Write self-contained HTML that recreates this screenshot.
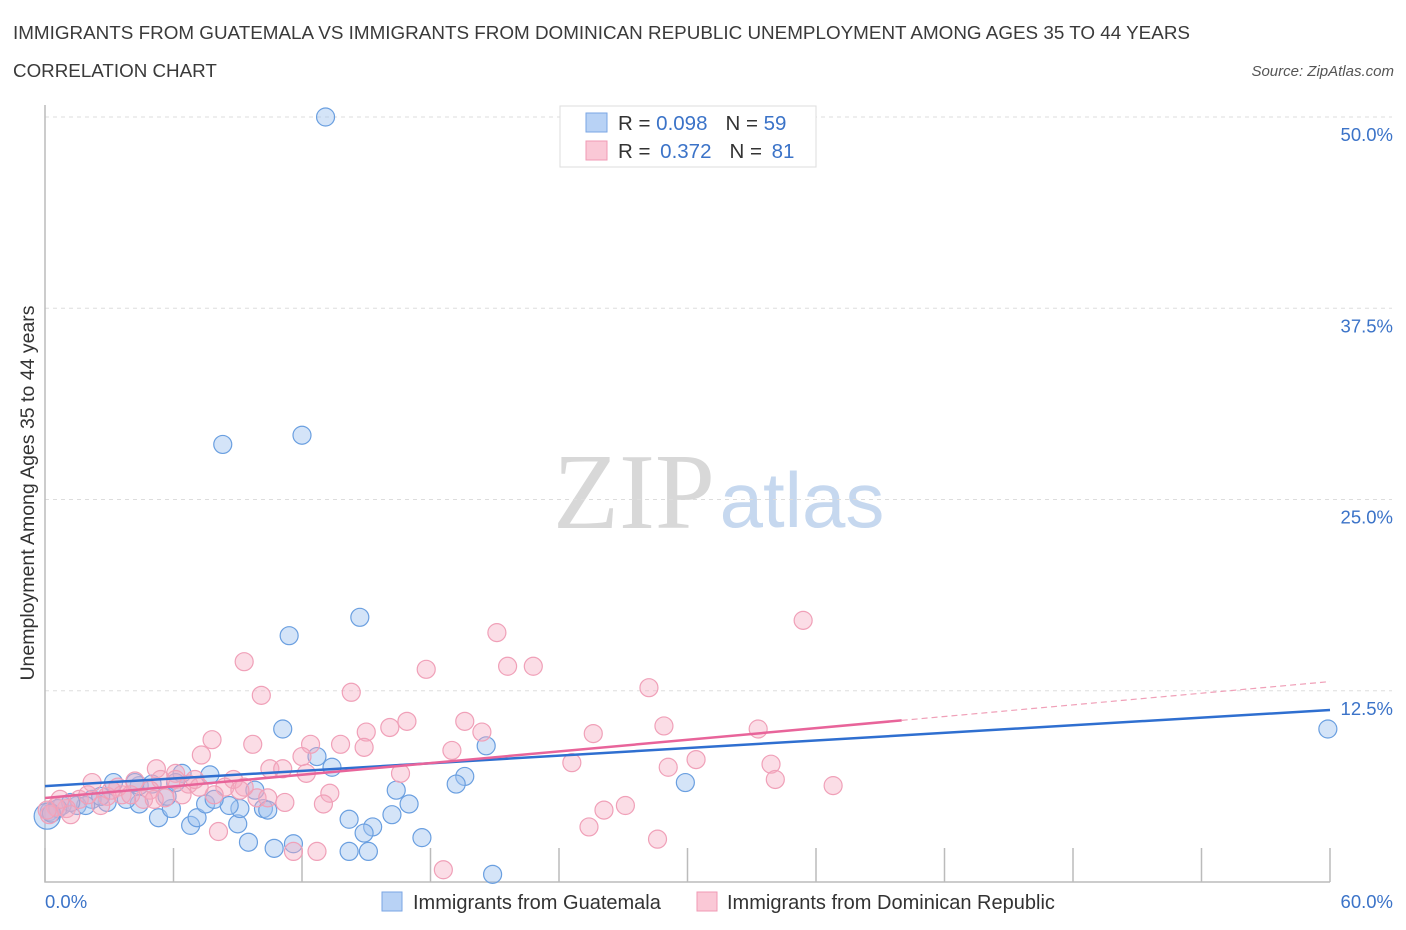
<!DOCTYPE html>
<html><head><meta charset="utf-8"><style>
body{margin:0;background:#fff;font-family:"Liberation Sans",sans-serif;}
svg{display:block}
</style></head><body>
<svg id="chart" width="1406" height="930" xmlns="http://www.w3.org/2000/svg">
<text x="13" y="39" font-size="18.8" fill="#3a3a3a" textLength="1177" lengthAdjust="spacingAndGlyphs">IMMIGRANTS FROM GUATEMALA VS IMMIGRANTS FROM DOMINICAN REPUBLIC UNEMPLOYMENT AMONG AGES 35 TO 44 YEARS</text>
<text x="13" y="77" font-size="18.8" fill="#3a3a3a">CORRELATION CHART</text>
<text x="1394" y="76" font-size="15" fill="#555" text-anchor="end" font-style="italic">Source: ZipAtlas.com</text>
<text transform="translate(34,493) rotate(-90)" font-size="19.5" fill="#333" text-anchor="middle">Unemployment Among Ages 35 to 44 years</text>
<g>
<text x="634" y="528" font-size="108" font-family="Liberation Serif,serif" fill="#d8d8d8" text-anchor="middle">ZIP</text>
<text x="802" y="527" font-size="78" fill="#c6d8ef" text-anchor="middle">atlas</text>
</g>
<g id="grid"></g><g id="axes"></g><g id="pts"></g><g id="lines"></g>
<g>
<rect x="560" y="106" width="256" height="61" fill="#fff" stroke="#ddd"/>
<rect x="586" y="113" width="21" height="19" fill="#b8d2f5" stroke="#7aa6e4"/>
<rect x="586" y="141" width="21" height="19" fill="#fac8d6" stroke="#f09ab4"/>
<text x="618" y="130" font-size="20.5" fill="#333">R = <tspan fill="#3b73c8">0.098</tspan><tspan dx="18">N = </tspan><tspan fill="#3b73c8">59</tspan></text>
<text x="618" y="158" font-size="20.5" fill="#333">R = <tspan dx="4" fill="#3b73c8">0.372</tspan><tspan dx="18">N = </tspan><tspan dx="4" fill="#3b73c8">81</tspan></text>
</g>
<g>
<rect x="382" y="892" width="20" height="19" fill="#b8d2f5" stroke="#7aa6e4"/>
<text x="413" y="909" font-size="20" fill="#333">Immigrants from Guatemala</text>
<rect x="697" y="892" width="20" height="19" fill="#fac8d6" stroke="#f09ab4"/>
<text x="727" y="909" font-size="20" fill="#333">Immigrants from Dominican Republic</text>
</g>
</svg>
<script>
const yTicks=[12.5,25,37.5,50];
const yTickLabels=["12.5%","25.0%","37.5%","50.0%"];
const xTicks=[0,6,12,18,24,30,36,42,48,54,60];
const blueX=[13.1,8.3,12.0,11.4,14.7,11.1,20.6,59.9,12.7,13.4,7.7,6.4,19.6,19.2,29.9,16.4,17.0,16.2,14.2,15.3,14.9,17.6,9.5,10.7,11.6,14.2,15.1,20.9,5.3,6.8,7.1,9.0,9.1,8.6,7.5,7.9,5.9,5.7,4.4,3.8,2.9,2.2,1.5,0.8,0.2,0.1,3.2,4.4,5.0,6.1,9.8,10.2,10.4,4.2,2.6,1.9,1.2,0.6,0.3];
const blueY=[50.0,28.6,29.2,16.1,17.3,10.0,8.9,10.0,8.2,7.5,7.0,7.1,6.9,6.4,6.5,6.0,5.1,4.4,4.1,3.6,3.2,2.9,2.6,2.2,2.5,2.0,2.0,0.5,4.2,3.7,4.2,3.8,4.8,5.0,5.1,5.4,4.8,5.6,5.1,5.4,5.2,5.4,5.0,5.0,4.6,4.3,6.5,6.3,6.4,6.5,6.0,4.8,4.7,6.5,5.6,5.0,5.2,4.8,4.5];
const pinkX=[35.4,21.1,21.6,22.8,17.8,9.3,28.2,10.1,14.3,16.9,19.6,16.1,28.9,33.3,20.4,7.8,15.0,25.6,9.7,12.4,7.3,12.0,13.8,14.9,19.0,30.4,24.6,33.9,29.1,5.2,10.5,11.1,12.2,16.6,6.1,8.8,8.4,6.7,5.4,4.2,2.2,3.4,34.1,36.8,13.3,13.0,11.2,9.9,10.4,7.9,3.6,4.9,27.1,26.1,25.4,28.6,8.1,11.6,12.7,18.6,5.6,2.9,1.6,1.0,0.5,0.2,1.2,2.6,4.6,7.2,9.3,7.0,6.1,4.0,2.0,0.7,0.1,3.1,5.1,6.4,9.1];
const pinkY=[17.1,16.3,14.1,14.1,13.9,14.4,12.7,12.2,12.4,10.5,10.5,10.1,10.2,10.0,9.8,9.3,9.8,9.7,9.0,9.0,8.3,8.2,9.0,8.8,8.6,8.0,7.8,7.7,7.5,7.4,7.4,7.4,7.1,7.1,7.1,6.7,6.2,6.4,6.7,6.6,6.5,6.2,6.7,6.3,5.8,5.1,5.2,5.5,5.5,5.7,5.7,6.0,5.0,4.7,3.6,2.8,3.3,2.0,2.0,0.8,5.5,5.6,5.4,4.8,4.9,4.4,4.4,5.0,5.4,6.2,6.2,6.7,6.7,5.7,5.7,5.4,4.7,6.0,5.4,5.7,6.0];
const blueTrend=[6.27,11.24];
const pinkTrend=[5.49,13.1];
const pinkSolidEnd=40;
const NS="http://www.w3.org/2000/svg";
const xs=v=>45+v/60*1285, ys=v=>882-v/50*765;
function mk(tag,attrs,parent){const e=document.createElementNS(NS,tag);for(const k in attrs)e.setAttribute(k,attrs[k]);parent.appendChild(e);return e;}
const grid=document.getElementById('grid'),axes=document.getElementById('axes'),pts=document.getElementById('pts'),lines=document.getElementById('lines');
yTicks.forEach((t,i)=>{
 const g=mk('line',{x1:45,x2:1392,y1:ys(t),y2:ys(t),stroke:'#ddd','stroke-dasharray':'4,4'},grid);
 
 
 const l=mk('text',{x:1393,y:ys(t)+24,'font-size':18.5,fill:'#3b73c8','text-anchor':'end'},grid);
 l.textContent=yTickLabels[i];
 
 
});
const ax=mk('path',{d:'M45,105V882H1330',fill:'none',stroke:'#bbb','stroke-width':1.5},axes);


xTicks.forEach(t=>{const k=mk('line',{x1:xs(t),x2:xs(t),y1:848,y2:882,stroke:'#bbb','stroke-width':1.5},axes);
 
 });
const x0=mk('text',{x:45,y:908,'font-size':18.5,fill:'#3b73c8'},axes);x0.textContent='0.0%';


const x1=mk('text',{x:1393,y:908,'font-size':18.5,fill:'#3b73c8','text-anchor':'end'},axes);x1.textContent='60.0%';


blueX.forEach((v,i)=>{const c=mk('circle',{cx:xs(v),cy:ys(blueY[i]),r:i===45?13:9,fill:'rgba(160,196,240,0.45)',stroke:'#6a9fe0','stroke-width':1.2},pts);
 
 });
pinkX.forEach((v,i)=>{const c=mk('circle',{cx:xs(v),cy:ys(pinkY[i]),r:9,fill:'rgba(245,170,192,0.4)',stroke:'#f0a0b8','stroke-width':1.2},pts);
 
 });
const bl=mk('line',{x1:xs(0),y1:ys(blueTrend[0]),x2:xs(60),y2:ys(blueTrend[1]),stroke:'#2f6fd0','stroke-width':2.5},lines);


const pm=pinkTrend[0]+(pinkTrend[1]-pinkTrend[0])*pinkSolidEnd/60;
const pl=mk('line',{x1:xs(0),y1:ys(pinkTrend[0]),x2:xs(pinkSolidEnd),y2:ys(pm),stroke:'#e8649a','stroke-width':2.5},lines);


const pd=mk('line',{x1:xs(pinkSolidEnd),y1:ys(pm),x2:xs(60),y2:ys(pinkTrend[1]),stroke:'#f0a0b8','stroke-width':1.2,'stroke-dasharray':'6,4'},lines);


</script>
</body></html>
